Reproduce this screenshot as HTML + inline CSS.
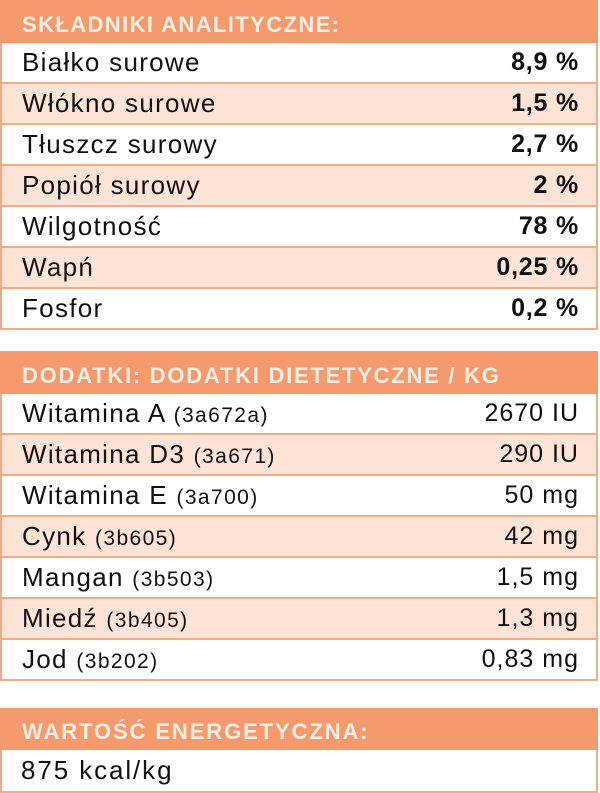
<!DOCTYPE html>
<html><head><meta charset="utf-8">
<style>
html,body{margin:0;padding:0;background:#fff;}
body{width:600px;height:793px;position:relative;overflow:hidden;font-family:"Liberation Sans",sans-serif;color:#111;}
.sec{position:absolute;left:0;width:598px;}
.hdr{height:43px;background:#F49A6C;color:#FEEDE2;font-weight:bold;font-size:22px;letter-spacing:1.55px;padding-left:22px;box-sizing:border-box;line-height:49px;white-space:nowrap;}
.row{height:41px;box-sizing:border-box;border:2px solid #F5AC84;border-top:none;display:flex;justify-content:space-between;align-items:center;padding:0 17px 1px 20px;font-size:26px;letter-spacing:1.3px;white-space:nowrap;}
.l{background:#FDE4D6;}
.w{background:#fff;}
.v1{font-weight:bold;letter-spacing:0.8px;font-size:25px;}
.v2{letter-spacing:1px;font-size:25px;}
.p{font-size:21px;letter-spacing:1.4px;}
</style></head><body>

<div class="sec" style="top:0">
  <div class="hdr" style="letter-spacing:1.4px">SKŁADNIKI ANALITYCZNE:</div>
  <div class="row w"><span>Białko surowe</span><span class="v1">8,9 %</span></div>
  <div class="row l"><span>Włókno surowe</span><span class="v1">1,5 %</span></div>
  <div class="row w"><span>Tłuszcz surowy</span><span class="v1">2,7 %</span></div>
  <div class="row l"><span>Popiół surowy</span><span class="v1">2 %</span></div>
  <div class="row w"><span>Wilgotność</span><span class="v1">78 %</span></div>
  <div class="row l"><span>Wapń</span><span class="v1">0,25 %</span></div>
  <div class="row w"><span>Fosfor</span><span class="v1">0,2 %</span></div>
</div>

<div class="sec" style="top:351px">
  <div class="hdr" style="letter-spacing:1.75px">DODATKI: DODATKI DIETETYCZNE / KG</div>
  <div class="row w"><span>Witamina A <span class="p">(3a672a)</span></span><span class="v2">2670 IU</span></div>
  <div class="row l"><span>Witamina D3 <span class="p">(3a671)</span></span><span class="v2">290 IU</span></div>
  <div class="row w"><span>Witamina E <span class="p">(3a700)</span></span><span class="v2">50 mg</span></div>
  <div class="row l"><span>Cynk <span class="p">(3b605)</span></span><span class="v2">42 mg</span></div>
  <div class="row w"><span>Mangan <span class="p">(3b503)</span></span><span class="v2">1,5 mg</span></div>
  <div class="row l"><span>Miedź <span class="p">(3b405)</span></span><span class="v2">1,3 mg</span></div>
  <div class="row w"><span>Jod <span class="p">(3b202)</span></span><span class="v2">0,83 mg</span></div>
</div>

<div class="sec" style="top:708px">
  <div class="hdr" style="height:42px;line-height:47px;letter-spacing:1.9px">WARTOŚĆ ENERGETYCZNA:</div>
  <div class="row w" style="height:43px;padding-left:19px;letter-spacing:1.9px"><span>875 kcal/kg</span><span></span></div>
</div>

</body></html>
